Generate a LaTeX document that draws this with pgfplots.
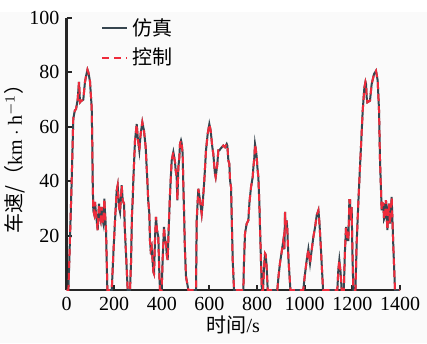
\documentclass[border=0pt]{standalone}
\usepackage{pgfplots}
\pgfplotsset{compat=1.18}
\usepackage{pgfplotstable}
\usepackage{fontspec}
\setmainfont{Liberation Serif}
\newfontfamily\cjk{Noto Sans CJK SC}
\definecolor{simc}{HTML}{36454F}
\definecolor{ctrlc}{HTML}{EE2B3B}
\definecolor{bgc}{HTML}{FAFAFA}
\pgfplotstableread{
t v
0 0
8 0
15 20
21.7 40
28.5 63
35 66
40 66.5
46.9 70
52.5 76.5
56.7 69
62 69.5
70.5 70
77.7 76.6
83 79
88 81
92 80
98.7 76.6
102 72
105.8 67
108 55
110 40
112.5 29.3
116 28
119.6 32.4
124 28
126.7 25.6
130.9 22
136.5 31.7
140 27
143.5 25.6
147.7 30.5
151 26
154.7 24.4
158.9 33.6
162 28
165.9 22
169 10
171.5 0
190 0
196.7 13.4
203.7 25.6
210.7 36.6
214.9 38.5
218 34
220.5 30.5
224.7 28.7
228 33
231.7 38.5
235.9 33
241.5 31.7
245 22
249.8 13.4
256.8 0
266.6 0
270.8 10
275 28
277.8 33
280.5 40.3
287.6 55
294.7 61
298.9 56.2
305.7 51.3
311.3 57.4
318.3 61.7
325.3 58.6
332.4 52.5
336.6 45
339.4 40.3
343 33
347.8 28
350.5 18
353.4 14.7
357.5 15.9
360.4 12.2
364.5 6.7
367.4 6
372 20
375.7 26.9
380 22
385.5 19.5
390 5
392.5 0
399.5 0
404 12
409.3 23.2
413 19
417.7 17.1
421 13
424.7 11
428 20
434.5 35.4
441.5 47.6
448.5 50.7
455.5 47
458.3 44
462.5 41.5
465.3 33
469.5 45
473.7 48.8
476.5 53.7
480.7 55
483.5 54
487.7 50
490 40
493.3 29.3
497 15
501.7 4.9
511.5 0
543.6 0
546.6 25.6
553.4 37.2
560.4 32.9
567.5 28
571.7 31.7
578.5 40.3
585.6 51.3
592.6 57.4
599.6 61
605.2 58.6
612.2 52.5
616.4 50
620.6 45.2
623.4 42.7
626.2 41.5
630 44
633.3 46.4
637.3 51.3
641.6 51.3
647.1 52
658.4 53.1
665.4 52.5
672.5 53.7
675.2 53.1
679.5 47.6
683.6 46.4
686.5 40.3
690.7 37.8
697.7 11
703.3 0
742.4 0
745 10
749.4 20.8
756.4 24.4
763.4 25.6
767.6 31.7
770.4 34.3
774.6 37.8
781.6 41.5
784.4 45
788.6 48.8
791.4 53.6
794.2 52
798.4 49
801.2 45.2
805.4 41.5
809.6 31.7
812.3 23.2
816.6 10
820 0
825 0
829.1 8.5
833.4 13.4
836.1 13
840.3 8.5
844.6 0
885 0
890 5
896.3 10
903.3 14
910.4 18.3
914.6 15
917.3 28.7
920.2 22
924.4 25.6
927.2 22
931.4 12
935.6 6
940 0
994 0
1000 5
1008.3 11
1015.3 15
1022.3 9.8
1029.3 14.7
1036.3 19.5
1043.3 23
1050.4 27.5
1057.4 29.3
1061.6 25
1067.2 16.5
1072.8 7
1077 0
1137 0
1141 7.3
1145.3 11
1150.9 6.1
1155 0
1164 0
1169 14.6
1173.5 23.2
1179 18.3
1183.3 18.3
1187.4 33
1190.2 33
1193 25.6
1197 30.5
1200 15
1204 0
1213 0
1218 17.1
1225 32
1232 45.2
1238 56
1243.4 65.9
1250.4 74.4
1255 76.5
1257.4 75.7
1260.2 70.8
1263 69
1274 69.6
1281 75.7
1291 79.4
1299.3 80.6
1306.3 77
1312 65.9
1316.1 47.6
1323 29.3
1326 32
1330 31.7
1333 26
1337 26.9
1341 33
1347 22
1353 31.7
1358 24.4
1365 34.2
1372 15.9
1379 0
1400 0
}\speed
\begin{document}
\begin{tikzpicture}[font=\fontsize{10}{12}\selectfont]
\path[use as bounding box] (-33.25pt,-26.5pt) rectangle (180.25pt,145pt);
\fill[bgc] (-33.25pt,-26.5pt) rectangle (180.25pt,139pt);
\begin{axis}[
  scale only axis, width=166.75pt, height=136pt,
  at={(0pt,0pt)}, anchor=south west,
  xmin=0, xmax=1400, ymin=0, ymax=100,
  axis lines=left,
  axis line style={-, line width=1.1pt, color=black!85},
  tick align=inside, major tick length=2.5pt,
  tick style={line width=1pt, color=black!85},
  xtick={0,200,...,1400}, ytick={20,40,60,80,100},
  /pgf/number format/assume math mode=true,
  /pgf/number format/1000 sep={},
  tick label style={font=\fontsize{10}{12}\selectfont},
  every axis y label/.style={at={(axis description cs:-0.154,0.5)}, rotate=90, anchor=center},
  every axis x label/.style={at={(axis description cs:0.5,-0.1287)}, anchor=center},
  ylabel={{\cjk 车速/（}km${}\cdot{}$h$^{-1}${\cjk ）}},
  xlabel={{\cjk 时间}/s},
  legend cell align=left,
  legend style={at={(axis description cs:0.085,1.03)}, anchor=north west, draw=none, fill=none,
    font=\cjk\fontsize{10}{12}\selectfont, row sep=1pt},
  legend image code/.code={\draw[#1] (0pt,0pt) -- (12.5pt,0pt);},
]
\addplot[simc, line width=1pt] table[x=t,y=v] {\speed};
\addlegendentry{仿真}
\addplot[ctrlc, line width=1pt, dash pattern=on 3.5pt off 2.5pt] table[x=t,y=v] {\speed};
\addlegendentry{控制}
\end{axis}
\end{tikzpicture}
\end{document}
